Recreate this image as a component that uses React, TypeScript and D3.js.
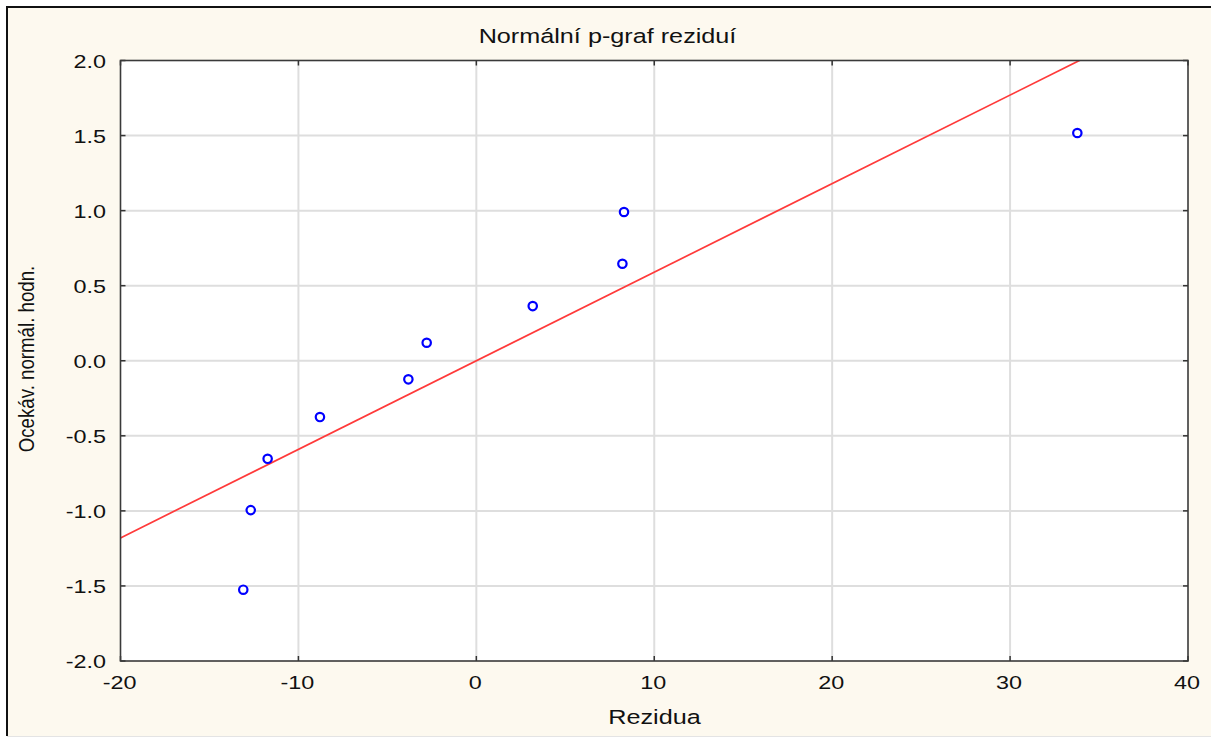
import React from "react";
import * as d3 from "d3";

const residuals = [-13.1, -12.68, -11.73, -8.79, -3.82, -2.79, 3.17, 8.21, 8.3, 33.78];
const expectedNormal = [-1.525, -0.995, -0.653, -0.375, -0.124, 0.12, 0.364, 0.646, 0.991, 1.517];
const xTicks = [-20, -10, 0, 10, 20, 30, 40];
const yTicks = [-2.0, -1.5, -1.0, -0.5, 0.0, 0.5, 1.0, 1.5, 2.0];
const lineSlope = 0.059;
const lineIntercept = 0;
const title = "Normální p-graf reziduí";
const xTitle = "Rezidua";
const yTitle = "Ocekáv. normál. hodn.";

const W = 1211;
const H = 738;
const left = 120.5;
const right = 1188;
const top = 60.5;
const bottom = 661;
const SX = 1.23;
const FONT = "'Liberation Sans', Arial, sans-serif";

export default function App() {
  const x = d3.scaleLinear().domain([-20, 40]).range([left, right]);
  const y = d3.scaleLinear().domain([-2, 2]).range([bottom, top]);
  const lineGen = d3
    .line<number>()
    .x((d) => x(d))
    .y((d) => y(lineSlope * d + lineIntercept));
  const lineXs = [-20, 40];
  const tickLen = 5;
  return (
    <svg
      width={W}
      height={H}
      style={{ position: "absolute", left: 0, top: 0, display: "block" }}
    >
      <rect x={0} y={0} width={W} height={H} fill="#ffffff" />
      <rect x={7} y={7} width={W} height={729} fill="#fdf9ef" />
      <line x1={7} y1={7} x2={W} y2={7} stroke="#111" strokeWidth={2} />
      <line x1={7} y1={6} x2={7} y2={736} stroke="#111" strokeWidth={2} />
      <line x1={7} y1={736.5} x2={W} y2={736.5} stroke="#e4e4e4" strokeWidth={1} />
      <defs>
        <clipPath id="plotclip">
          <rect x={left} y={top} width={right - left} height={bottom - top} />
        </clipPath>
      </defs>
      <rect x={left} y={top} width={right - left} height={bottom - top} fill="#ffffff" />
      {xTicks.slice(1, -1).map((t) => (
        <line key={"gx" + t} x1={x(t)} x2={x(t)} y1={top} y2={bottom} stroke="#dedede" strokeWidth={2} />
      ))}
      {yTicks.slice(1, -1).map((t) => (
        <line key={"gy" + t} x1={left} x2={right} y1={y(t)} y2={y(t)} stroke="#dedede" strokeWidth={2} />
      ))}
      <path
        d={lineGen(lineXs) || ""}
        fill="none"
        stroke="#ff3a3a"
        strokeWidth={1.7}
        clipPath="url(#plotclip)"
      />
      {residuals.map((r, i) => (
        <circle
          key={"p" + i}
          cx={x(r)}
          cy={y(expectedNormal[i])}
          r={4.2}
          fill="#ffffff"
          stroke="#0000ff"
          strokeWidth={2.2}
        />
      ))}
      {xTicks.map((t) => (
        <g key={"tx" + t}>
          <line x1={x(t)} x2={x(t)} y1={bottom} y2={bottom - tickLen} stroke="#333" strokeWidth={1.5} />
          <line x1={x(t)} x2={x(t)} y1={top} y2={top + tickLen} stroke="#333" strokeWidth={1.5} />
        </g>
      ))}
      {yTicks.map((t) => (
        <g key={"ty" + t}>
          <line x1={left} x2={left + tickLen} y1={y(t)} y2={y(t)} stroke="#333" strokeWidth={1.5} />
          <line x1={right} x2={right - tickLen} y1={y(t)} y2={y(t)} stroke="#333" strokeWidth={1.5} />
        </g>
      ))}
      <rect
        x={left}
        y={top}
        width={right - left}
        height={bottom - top}
        fill="none"
        stroke="#3a3a3a"
        strokeWidth={1.6}
      />
      {yTicks.map((t) => (
        <text
          key={"ly" + t}
          transform={`translate(106,${y(t) + 7}) scale(${SX},1)`}
          textAnchor="end"
          fontFamily={FONT}
          fontSize={19}
          fill="#111"
        >
          {t.toFixed(1)}
        </text>
      ))}
      {xTicks.map((t) => (
        <text
          key={"lx" + t}
          transform={`translate(${x(t) - 1},${689}) scale(${SX},1)`}
          textAnchor="middle"
          fontFamily={FONT}
          fontSize={19}
          fill="#111"
        >
          {t}
        </text>
      ))}
      <text
        transform={`translate(607.5,43) scale(${SX},1)`}
        textAnchor="middle"
        fontFamily={FONT}
        fontSize={20.5}
        fill="#111"
      >
        {title}
      </text>
      <text
        transform={`translate(654.5,724) scale(${SX},1)`}
        textAnchor="middle"
        fontFamily={FONT}
        fontSize={20.5}
        fill="#111"
      >
        {xTitle}
      </text>
      <text
        transform={`translate(34,359) scale(1.2,1) rotate(-90)`}
        textAnchor="middle"
        fontFamily={FONT}
        fontSize={18.7}
        fill="#111"
      >
        {yTitle}
      </text>
    </svg>
  );
}
